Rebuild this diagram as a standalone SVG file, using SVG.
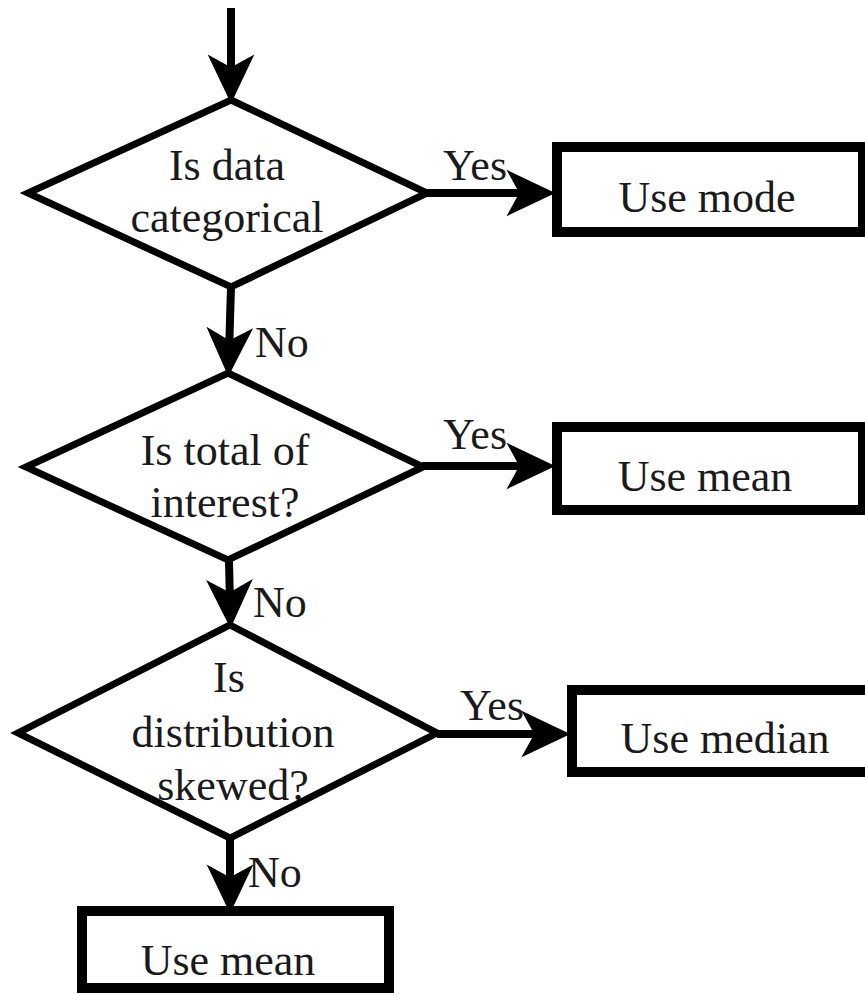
<svg xmlns="http://www.w3.org/2000/svg" width="865" height="994" viewBox="0 0 865 994">
<style>
.shape{fill:#fff;stroke:#000;stroke-width:7;stroke-linejoin:miter}
.box{fill:#fff;stroke:#000;stroke-width:10}
.t{font-family:"Liberation Serif","Times New Roman",serif;font-size:44px;fill:#1a1a1a;text-anchor:middle}
.lbl{font-family:"Liberation Serif","Times New Roman",serif;font-size:44px;fill:#1a1a1a}
.conn{stroke:#000;stroke-width:8;fill:none;marker-end:url(#ah)}
</style>
<defs>
<marker id="ah" markerUnits="userSpaceOnUse" markerWidth="60" markerHeight="60" viewBox="-50 -30 60 60" refX="-20" refY="0" orient="auto" overflow="visible">
<path d="M0,0 L-42,-20 L-31,0 L-42,20 Z" fill="#000" stroke="#000" stroke-width="3" stroke-linejoin="miter"/>
</marker>
</defs>
<rect width="865" height="994" fill="#fff"/>
<g id="connectors">
<line class="conn" x1="231" y1="8" x2="231" y2="80"/>
<line class="conn" x1="427" y1="193" x2="532" y2="193"/>
<line class="conn" x1="231" y1="287" x2="229" y2="353"/>
<line class="conn" x1="422" y1="466" x2="532" y2="466"/>
<line class="conn" x1="229" y1="560" x2="230" y2="605"/>
<line class="conn" x1="437" y1="734" x2="547" y2="734"/>
<line class="conn" x1="230" y1="838" x2="230" y2="890"/>
<text class="lbl" x="443" y="180">Yes</text>
<text class="lbl" x="255" y="357">No</text>
<text class="lbl" x="443" y="449">Yes</text>
<text class="lbl" x="253" y="617">No</text>
<text class="lbl" x="460" y="720">Yes</text>
<text class="lbl" x="248" y="887">No</text>
</g>
<g id="d1">
<polygon class="shape" points="231,100 427,193 231,287 28,193"/>
<text class="t" x="227" y="180">Is data</text>
<text class="t" x="227" y="232">categorical</text>
</g>
<g id="b1">
<rect class="box" x="557" y="147" width="306" height="85"/>
<text class="t" x="707" y="212">Use mode</text>
</g>
<g id="d2">
<polygon class="shape" points="228,373 423,467 228,560 26,467"/>
<text class="t" x="225" y="465">Is total of</text>
<text class="t" x="225" y="517">interest?</text>
</g>
<g id="b2">
<rect class="box" x="557" y="427" width="306" height="83"/>
<text class="t" x="705" y="491">Use mean</text>
</g>
<g id="d3">
<polygon class="shape" points="230,625 437,733 230,838 18,733"/>
<text class="t" x="229" y="692">Is</text>
<text class="t" x="233" y="747">distribution</text>
<text class="t" x="233" y="800">skewed?</text>
</g>
<g id="b3">
<rect class="box" x="572" y="690" width="310" height="82"/>
<text class="t" x="725" y="753">Use median</text>
</g>
<g id="b4">
<rect class="box" x="82" y="911" width="307" height="77"/>
<text class="t" x="228" y="975">Use mean</text>
</g>
</svg>
